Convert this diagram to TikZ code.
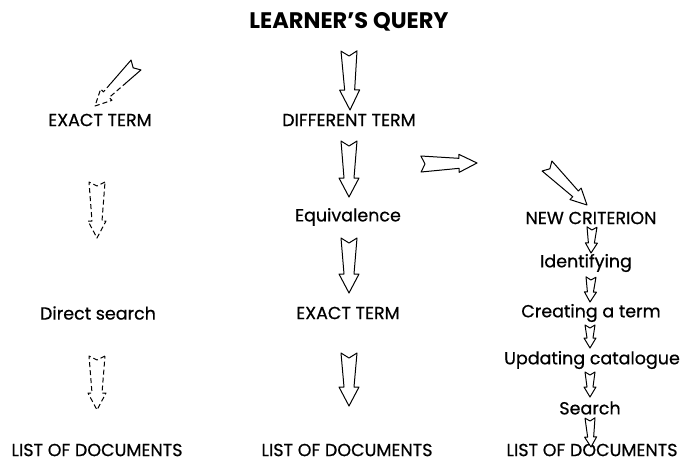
\documentclass[tikz,border=0pt]{standalone}
\usepackage{fontspec}
\setmainfont{Poppins}
\newfontfamily\medfont{Poppins}[FakeBold=0.6]
\usetikzlibrary{calc}
\tikzset{
  lbl/.style={inner sep=0pt, font=\medfont\fontsize{17.5}{19}\selectfont},
  ttl/.style={inner sep=0pt, font=\fontsize{22.5}{24}\selectfont\bfseries},
  barw/.style={draw=black, line width=1pt, line join=round, fill=white},
  dbarw/.style={barw, dash pattern=on 5pt off 3pt},
}
% #1 style, #2 tail, #3 tip, #4 tail half, #5 shaft half, #6 head half, #7 head length, #8 notch
\newcommand\blockarr[8]{%
  \draw[#1] ($(#2)!#4!90:(#3)$) -- ($(#2)!#8!(#3)$) -- ($(#2)!#4!-90:(#3)$)
    -- ($(#3)!#7!(#2)!#5!-90:(#3)$) -- ($(#3)!#7!(#2)!#6!-90:(#3)$) -- (#3)
    -- ($(#3)!#7!(#2)!#6!90:(#3)$) -- ($(#3)!#7!(#2)!#5!90:(#3)$) -- cycle;}
\begin{document}
\begin{tikzpicture}[x=1pt,y=-1pt]
\useasboundingbox (0,0) rectangle (680,461);
% texts
\node[ttl] (q) at (349,22) {LEARNER'S QUERY};
\node[lbl] (e1) at (100,120) {EXACT TERM};
\node[lbl] (d1) at (98,313) {Direct search};
\node[lbl] (l1) at (97,450) {LIST OF DOCUMENTS};
\node[lbl] (dt) at (349,120) {DIFFERENT TERM};
\node[lbl] (eq) at (348,217) {Equivalence};
\node[lbl] (e2) at (348,313) {EXACT TERM};
\node[lbl] (l2) at (347,450) {LIST OF DOCUMENTS};
\node[lbl] (nc) at (591,218) {NEW CRITERION};
\node[lbl] (id) at (586,263) {Identifying};
\node[lbl] (cr) at (591,313) {Creating a term};
\node[lbl] (up) at (592,360) {Updating catalogue};
\node[lbl] (se) at (590,408) {Search};
\node[lbl] (l3) at (592,450) {LIST OF DOCUMENTS};
% arrow end points
\coordinate (a1t) at (136,65);  \coordinate (a1h) at (95,106);
\coordinate (a2t) at (97,182);  \coordinate (a2h) at (97,238);
\coordinate (a3t) at (97,356);  \coordinate (a3h) at (97,410);
\coordinate (b1t) at (349,51);  \coordinate (b1h) at (350,110);
\coordinate (b2t) at (349,141); \coordinate (b2h) at (349,197);
\coordinate (b3t) at (349,238); \coordinate (b3h) at (349,293);
\coordinate (b4t) at (349,353); \coordinate (b4h) at (349,406);
\coordinate (ht) at (421,164);  \coordinate (hh) at (477,163);
\coordinate (ct) at (547,166);  \coordinate (ch) at (587,205);
\coordinate (r1t) at (592,227); \coordinate (r1h) at (591,253);
\coordinate (r2t) at (591,277); \coordinate (r2h) at (590,302);
\coordinate (r3t) at (590,325); \coordinate (r3h) at (590,348);
\coordinate (r4t) at (590,372); \coordinate (r4h) at (590,397);
\coordinate (r5t) at (590,418); \coordinate (r5h) at (591,447);
% arrows
\begin{scope}
  \clip (60,50) rectangle (160,84);
  \blockarr{barw}{a1t}{a1h}{7pt}{4pt}{8pt}{16pt}{4pt}
\end{scope}
\begin{scope}
  \clip (60,84) rectangle (160,115);
  \blockarr{dbarw}{a1t}{a1h}{7pt}{4pt}{8pt}{16pt}{4pt}
\end{scope}
\blockarr{dbarw}{a2t}{a2h}{8pt}{5pt}{9pt}{17pt}{4pt}
\blockarr{dbarw}{a3t}{a3h}{8pt}{5pt}{9pt}{17pt}{4pt}
\blockarr{barw}{b1t}{b1h}{8pt}{5pt}{10pt}{20pt}{5pt}
\blockarr{barw}{b2t}{b2h}{8pt}{5pt}{10pt}{19pt}{5pt}
\blockarr{barw}{b3t}{b3h}{8pt}{5pt}{10pt}{19pt}{5pt}
\blockarr{barw}{b4t}{b4h}{8pt}{5pt}{10pt}{19pt}{5pt}
\blockarr{barw}{ht}{hh}{8pt}{5pt}{9pt}{18pt}{4pt}
\blockarr{barw}{ct}{ch}{7pt}{4pt}{8pt}{16pt}{4pt}
\blockarr{barw}{r1t}{r1h}{5pt}{3pt}{6pt}{10pt}{3pt}
\blockarr{barw}{r2t}{r2h}{5pt}{3pt}{6pt}{10pt}{3pt}
\blockarr{barw}{r3t}{r3h}{5pt}{3pt}{6pt}{10pt}{3pt}
\blockarr{barw}{r4t}{r4h}{5pt}{3pt}{6pt}{10pt}{3pt}
\blockarr{barw}{r5t}{r5h}{5pt}{3pt}{6pt}{10pt}{3pt}
\end{tikzpicture}
\end{document}
